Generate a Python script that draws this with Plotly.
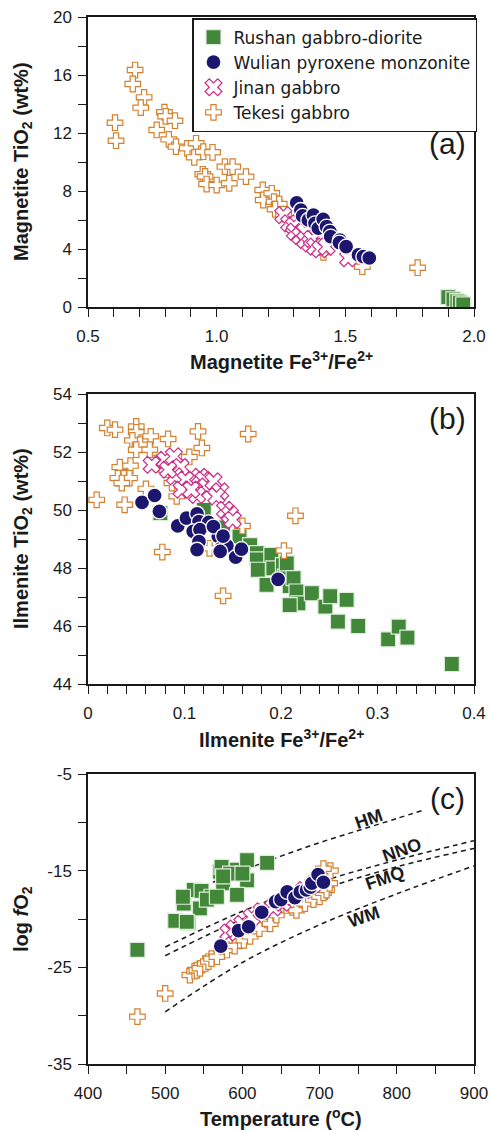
import plotly.graph_objects as go

# ---------------- Panel (a): magnetite ----------------
rushan_a_x = [1.900, 1.920, 1.935, 1.945, 1.958]
rushan_a_y = [0.68, 0.52, 0.40, 0.30, 0.18]

wulian_a_x = [1.311, 1.327, 1.334, 1.356, 1.376, 1.382, 1.395, 1.414, 1.427, 1.440, 1.443, 1.479, 1.477, 1.503, 1.551, 1.570, 1.593]
wulian_a_y = [7.19, 6.69, 6.28, 6.00, 6.34, 5.77, 5.43, 6.05, 5.54, 5.20, 4.85, 4.62, 4.44, 4.16, 3.59, 3.47, 3.38]

jinan_a_x = [1.259, 1.282, 1.300, 1.304, 1.324, 1.343, 1.343, 1.363, 1.370, 1.382, 1.402, 1.427, 1.511]
jinan_a_y = [6.34, 5.77, 5.60, 5.20, 4.90, 5.20, 4.62, 4.39, 4.70, 4.16, 3.98, 4.16, 3.36]

tekesi_a_x = [0.683, 0.674, 0.718, 0.705, 0.605, 0.609, 0.797, 0.802, 0.838, 0.767, 0.814, 0.842,
              0.886, 0.920, 0.913, 0.948, 0.984, 0.946, 0.955, 0.961, 1.000, 1.049, 1.032, 1.062,
              1.114, 1.179, 1.181, 1.214, 1.223, 1.243, 1.227, 1.26, 1.415, 1.566, 1.781]
tekesi_a_y = [16.34, 15.38, 14.46, 13.75, 12.71, 11.47, 13.43, 13.15, 12.85, 12.21, 11.56, 11.06,
              10.94, 11.29, 10.32, 10.71, 10.67, 9.15, 9.0, 8.48, 8.41, 8.53, 9.68, 9.68,
              8.99, 8.07, 7.38, 7.84, 7.26, 7.10, 6.74, 6.4, 3.77, 2.78, 2.71]

# ---------------- Panel (b): ilmenite ----------------
rushan_b_x = [0.075, 0.120, 0.140, 0.145, 0.157, 0.168, 0.175, 0.175, 0.176, 0.185, 0.190, 0.192, 0.202, 0.204, 0.206,
              0.209, 0.213, 0.216, 0.218, 0.209, 0.232, 0.246, 0.251, 0.259, 0.268, 0.280, 0.311, 0.322, 0.331, 0.377]
rushan_b_y = [49.89, 50.0, 49.4, 48.7, 49.08, 48.79, 48.51, 48.3, 47.94, 47.42, 48.45, 47.99, 48.1, 47.7, 48.16,
              47.38, 47.65, 47.19, 46.78, 46.72, 47.13, 46.67, 47.03, 46.15, 46.90, 46.0, 45.54, 45.98, 45.60, 44.69]

wulian_b_x = [0.056, 0.069, 0.074, 0.093, 0.102, 0.113, 0.115, 0.125, 0.109, 0.116, 0.115, 0.113, 0.135, 0.138,
              0.144, 0.137, 0.153, 0.159, 0.197, 0.130, 0.140]
wulian_b_y = [50.26, 50.50, 49.95, 49.45, 49.72, 49.87, 49.60, 49.57, 49.26, 49.32, 48.91, 48.63, 49.09, 48.68,
              48.76, 48.57, 48.37, 48.65, 47.61, 49.43, 49.10]

jinan_b_x = [0.066, 0.080, 0.089, 0.096, 0.090, 0.101, 0.097, 0.116, 0.120, 0.123, 0.113, 0.130, 0.137, 0.133,
             0.142, 0.147, 0.150, 0.107, 0.083]
jinan_b_y = [51.56, 51.73, 51.85, 51.48, 51.16, 51.04, 50.70, 51.14, 51.04, 50.81, 50.52, 50.99, 50.64, 50.47,
             50.01, 49.84, 49.66, 50.70, 51.39]

tekesi_b_x = [0.020, 0.028, 0.050, 0.050, 0.046, 0.054, 0.065, 0.050, 0.064, 0.083, 0.114, 0.166, 0.118, 0.105,
              0.081, 0.033, 0.044, 0.037, 0.031, 0.043, 0.035, 0.060, 0.009, 0.038, 0.092, 0.215, 0.160, 0.203,
              0.077, 0.140, 0.126, 0.071, 0.087]
tekesi_b_y = [52.83, 52.77, 52.88, 52.68, 52.40, 52.25, 52.54, 52.08, 52.08, 52.45, 52.71, 52.62, 52.14, 51.83,
              51.39, 51.48, 51.53, 51.10, 51.10, 51.10, 50.93, 50.73, 50.35, 50.18, 50.47, 49.80, 49.45, 48.60,
              48.55, 47.04, 48.68, 51.62, 50.93]

# ---------------- Panel (c): temperature vs log fO2 ----------------
rushan_c_t = [464, 513, 530, 545, 524, 537, 547, 560, 575, 571, 573, 593, 606, 606, 593, 632, 523, 554, 584, 600, 567, 575, 528]
rushan_c_f = [-23.2, -20.2, -20.4, -18.9, -18.4, -17.0, -17.1, -17.7, -16.3, -15.1, -14.6, -14.9, -16.0, -13.9, -17.5,
              -14.2, -17.7, -18.0, -15.3, -15.3, -17.7, -15.6, -20.3]

wulian_c_t = [572, 595, 608, 625, 643, 650, 658, 668, 675, 683, 688, 690, 698, 705]
wulian_c_f = [-22.8, -21.2, -20.8, -19.3, -18.2, -18.0, -17.2, -17.8, -17.2, -17.0, -16.7, -16.3, -15.4, -16.2]

jinan_c_t = [582, 590, 600, 612, 625, 640, 652, 665, 680, 692]
jinan_c_f = [-21.4, -21.0, -20.5, -19.8, -19.2, -18.8, -18.3, -17.7, -17.0, -16.4]

tekesi_c_t = [464, 500, 532, 538, 541, 545, 552, 556, 560, 567, 580, 590, 597, 602, 610, 622, 632, 636, 644, 657,
              665, 670, 681, 692, 700, 705, 709, 713, 714, 705]
tekesi_c_f = [-30.1, -27.7, -25.8, -25.4, -25.3, -25.1, -24.6, -24.4, -24.1, -23.9, -23.2, -22.8, -22.2, -22.2, -21.8,
              -21.0, -20.1, -20.5, -19.6, -18.6, -18.8, -19.1, -18.4, -18.0, -17.7, -17.3, -17.0, -16.3, -15.0, -14.8]

# oxygen buffer curves
hm_t = [540, 600, 650, 700, 750, 800, 832]
hm_f = [-16.9, -15.0, -13.5, -12.1, -10.85, -9.6, -8.8]
nno_t = [500, 600, 700, 800, 900]
nno_f = [-22.9, -19.2, -16.2, -13.9, -11.9]
fmq_t = [500, 600, 700, 800, 900]
fmq_f = [-23.8, -20.0, -17.0, -14.6, -12.7]
wm_t = [500, 600, 700, 800, 900]
wm_f = [-29.6, -24.5, -20.6, -17.4, -14.5]

buffer_labels = ["HM", "NNO", "FMQ", "WM"]
buffer_label_t = [764, 807, 785, 757]
buffer_label_f = [-9.7, -12.9, -15.8, -19.8]

c_ytickvals = [-35, -25, -15, -5]
c_yticktext = ["-35", "-25", "-15", "-5"]

GREEN = "#43873a"
NAVY = "#1d166e"
PINK = "#cc2b86"
ORANGE = "#d4812f"
INK = "#1a1a1a"
FONT = "Liberation Sans"

W, H = 490, 1131
fig = go.Figure()

styles = {
    "Rushan gabbro-diorite": dict(symbol="square", size=15, color=GREEN, line=dict(color="#dfeedb", width=1.2)),
    "Wulian pyroxene monzonite": dict(symbol="circle", size=15, color=NAVY, line=dict(color="white", width=1.3)),
    "Jinan gabbro": dict(symbol="x", size=15, color="white", line=dict(color=PINK, width=1.2)),
    "Tekesi gabbro": dict(symbol="cross", size=13, color="white", line=dict(color=ORANGE, width=1.2)),
}
rank = {"Rushan gabbro-diorite": 1, "Wulian pyroxene monzonite": 2, "Jinan gabbro": 3, "Tekesi gabbro": 4}


def add(xs, ys, name, xa, ya, show):
    fig.add_trace(go.Scatter(x=xs, y=ys, mode="markers", name=name, legendgroup=name, showlegend=show,
                             legendrank=rank[name], marker=styles[name], xaxis=xa, yaxis=ya))


# buffer curves first (underneath)
for bt, bf in [(hm_t, hm_f), (nno_t, nno_f), (fmq_t, fmq_f), (wm_t, wm_f)]:
    fig.add_trace(go.Scatter(x=bt, y=bf, mode="lines", line=dict(color=INK, width=1.5, dash="5px,4px", shape="spline"),
                             showlegend=False, hoverinfo="skip", xaxis="x3", yaxis="y3"))

panels = [
    ("x", "y", rushan_a_x, rushan_a_y, wulian_a_x, wulian_a_y, jinan_a_x, jinan_a_y, tekesi_a_x, tekesi_a_y, True),
    ("x2", "y2", rushan_b_x, rushan_b_y, wulian_b_x, wulian_b_y, jinan_b_x, jinan_b_y, tekesi_b_x, tekesi_b_y, False),
    ("x3", "y3", rushan_c_t, rushan_c_f, wulian_c_t, wulian_c_f, jinan_c_t, jinan_c_f, tekesi_c_t, tekesi_c_f, False),
]
for xa, ya, rx, ry, wx, wy, jx, jy, tx, ty, show in panels:
    add(rx, ry, "Rushan gabbro-diorite", xa, ya, show)
    add(tx, ty, "Tekesi gabbro", xa, ya, show)
    add(jx, jy, "Jinan gabbro", xa, ya, show)
    add(wx, wy, "Wulian pyroxene monzonite", xa, ya, show)


def px_x(p):
    return p / W


def px_y(p):
    return 1 - p / H


XDOM = [px_x(88), px_x(474)]


def axis(domain, rng, anchor, dtick=None, tick0=None, minor=None, fmt=None, tickvals=None, ticktext=None, is_x=True):
    d = dict(domain=domain, range=rng, anchor=anchor, showgrid=False, zeroline=False, automargin=False,
             showline=True, mirror=True, linecolor=INK, linewidth=1.5,
             ticks="outside", ticklen=8, tickwidth=1.3, tickcolor=INK,
             tickfont=dict(family=FONT, size=17, color=INK),
             ticklabelstandoff=5 if is_x else 3)
    if tickvals is not None:
        d.update(tickmode="array", tickvals=tickvals, ticktext=ticktext)
    else:
        d.update(tickmode="linear", dtick=dtick, tick0=tick0)
    if fmt:
        d["tickformat"] = fmt
    d["minor"] = dict(tickmode="linear", tick0=minor[0], dtick=minor[1], ticks="outside", ticklen=8,
                      tickwidth=1.3, tickcolor=INK)
    return d


fig.update_layout(
    width=W, height=H, autosize=False,
    margin=dict(l=0, r=0, t=0, b=0, pad=0, autoexpand=False),
    paper_bgcolor="white", plot_bgcolor="white",
    font=dict(family=FONT, color=INK),
    xaxis=axis(XDOM, [0.5, 2.0], "y", dtick=0.5, tick0=0.5, minor=(0.5, 0.1), fmt=".1f"),
    yaxis=axis([px_y(307), px_y(17)], [0, 20], "x", dtick=4, tick0=0, minor=(0, 2), is_x=False),
    xaxis2=axis(XDOM, [0, 0.4], "y2", dtick=0.1, tick0=0, minor=(0, 0.02)),
    yaxis2=axis([px_y(684), px_y(394)], [44, 54], "x2", dtick=2, tick0=44, minor=(44, 1), is_x=False),
    xaxis3=axis(XDOM, [400, 900], "y3", dtick=100, tick0=400, minor=(400, 50)),
    yaxis3=axis([px_y(1064), px_y(774)], [-35, -5], "x3", minor=(-35, 5), tickvals=c_ytickvals,
                ticktext=c_yticktext, is_x=False),
    legend=dict(x=px_x(192), y=px_y(18), xanchor="left", yanchor="top", bgcolor="white",
                bordercolor=INK, borderwidth=1.5, font=dict(family="DejaVu Sans", size=17, color=INK),
                tracegroupgap=0, itemsizing="trace", itemwidth=30),
)

ann = []
title_font = dict(family=FONT, size=20, color=INK, weight="bold")
xt = [("Magnetite Fe<sup>3+</sup>/Fe<sup>2+</sup>", 360), ("Ilmenite Fe<sup>3+</sup>/Fe<sup>2+</sup>", 739),
      ("Temperature (<sup>o</sup>C)", 1117)]
for text, yy in xt:
    ann.append(dict(text=text, x=px_x(281), y=px_y(yy), xref="paper", yref="paper", showarrow=False,
                    xanchor="center", yanchor="middle", font=title_font))
yt = [("Magnetite TiO<sub>2</sub> (wt%)", 162), ("Ilmenite TiO<sub>2</sub> (wt%)", 539),
      ("log <i>f</i>O<sub>2</sub>", 919)]
for text, yy in yt:
    ann.append(dict(text=text, x=px_x(22), y=px_y(yy), xref="paper", yref="paper", showarrow=False,
                    textangle=-90, xanchor="center", yanchor="middle", font=title_font))
for text, yy in [("(a)", 144), ("(b)", 419), ("(c)", 798)]:
    ann.append(dict(text=text, x=px_x(447), y=px_y(yy), xref="paper", yref="paper", showarrow=False,
                    xanchor="center", yanchor="middle", font=dict(family=FONT, size=30, color=INK)))
for text, bt, bf in zip(buffer_labels, buffer_label_t, buffer_label_f):
    ann.append(dict(text=text, x=bt, y=bf, xref="x3", yref="y3", showarrow=False, textangle=-19,
                    xanchor="center", yanchor="middle",
                    font=dict(family=FONT, size=18, color=INK, weight="bold")))
fig.update_layout(annotations=ann)

fig.write_html("out.html")
